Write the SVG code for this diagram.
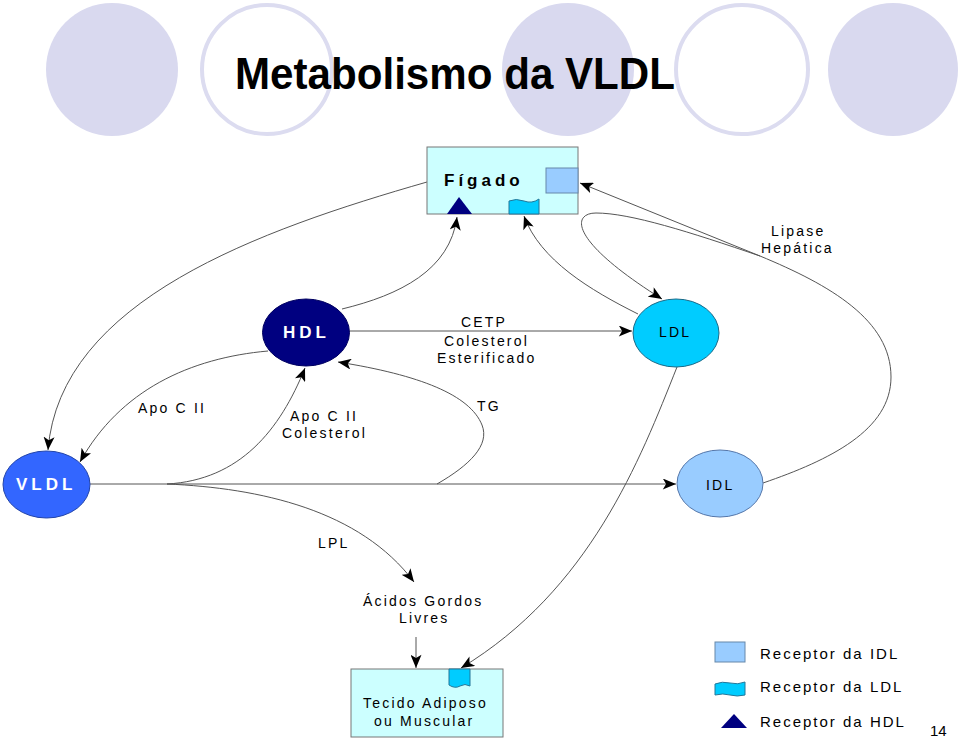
<svg xmlns="http://www.w3.org/2000/svg" width="960" height="738" viewBox="0 0 960 738">
<defs>
<style>
.bgf{fill:#d9d9ef}
.bgo{fill:#ffffff;stroke:#dcdcf0;stroke-width:4}
.t{font-family:"Liberation Sans",Arial,sans-serif;font-size:14px;letter-spacing:2.2px;fill:#000}
.lg{font-family:"Liberation Sans",Arial,sans-serif;font-size:15px;letter-spacing:2px;fill:#000}
.nb{font-family:"Liberation Sans",Arial,sans-serif;font-size:17px;font-weight:bold;letter-spacing:4px;fill:#fff}
.c{fill:none;stroke:#555;stroke-width:1}
.box{fill:#ccffff;stroke:#777;stroke-width:1}
.ri{fill:#99ccff;stroke:#6688aa;stroke-width:1}
.rl{fill:#00ccff;stroke:#227799;stroke-width:1}
.rh{fill:#000080}
</style>
<marker id="arr" viewBox="0 0 12 10" refX="12" refY="5" markerWidth="14" markerHeight="11" markerUnits="userSpaceOnUse" orient="auto">
<path d="M0,0 L12,5 L0,10 L3,5 Z" fill="#000"/>
</marker>
</defs>
<rect width="960" height="738" fill="#fff"/>
<g id="background">
<ellipse class="bgf" cx="112" cy="69.5" rx="66" ry="66.5"/>
<ellipse class="bgo" cx="267" cy="69.5" rx="65" ry="64.5"/>
<ellipse class="bgf" cx="568" cy="69.5" rx="66" ry="66.5"/>
<ellipse class="bgo" cx="742" cy="69.5" rx="66" ry="64.5"/>
<ellipse class="bgf" cx="893" cy="69.5" rx="65" ry="66.5"/>
</g>
<text x="235" y="89" font-family="Liberation Sans,Arial,sans-serif" font-size="44" font-weight="bold" textLength="440" lengthAdjust="spacingAndGlyphs">Metabolismo da VLDL</text>

<g id="connectors">
<path class="c" d="M427,182 C260,230 60,300 48,450" marker-end="url(#arr)"/>
<path class="c" d="M268,351 C190,358 120,390 80,462" marker-end="url(#arr)"/>
<path class="c" d="M167,484 C240,480 280,430 305,368" marker-end="url(#arr)"/>
<path class="c" d="M437,484 C470,465 490,445 482,425 C470,395 420,375 338,362" marker-end="url(#arr)"/>
<path class="c" d="M167,484 C260,488 360,510 414,582" marker-end="url(#arr)"/>
<path class="c" d="M342,309 C400,295 450,270 457,217" marker-end="url(#arr)"/>
<path class="c" d="M638,314 C590,290 540,260 524,216" marker-end="url(#arr)"/>
<path class="c" d="M763,483 C830,460 891,430 891,377 C891,320 830,285 760,256 L580,183" marker-end="url(#arr)"/>
<path class="c" d="M760,256 C690,232 630,213 596,213 C572,213 568,240 662,299" marker-end="url(#arr)"/>
<path class="c" d="M677,367 C640,460 590,590 461,668" marker-end="url(#arr)"/>
<path class="c" d="M350,331 L632,331" marker-end="url(#arr)"/>
<path class="c" d="M90,484 L676,484" marker-end="url(#arr)"/>
<path class="c" d="M416,637 L416,668" marker-end="url(#arr)"/>
</g>

<g id="figado">
<rect class="box" x="427" y="147" width="151" height="67"/>
<text x="444" y="186" font-family="Liberation Sans,Arial,sans-serif" font-size="17" font-weight="bold" letter-spacing="4">Fígado</text>
<rect class="ri" x="546" y="168" width="32" height="25"/>
<path class="rh" d="M459,197 L472,214 L447,214 Z"/>
<path class="rl" d="M509,201 Q516,198 524,201 T539,199 L539,214 L509,214 Z"/>
</g>

<g id="hdl">
<ellipse cx="306" cy="332.5" rx="43.5" ry="33.5" fill="#000080" stroke="#000060"/>
<text class="nb" x="283" y="338">HDL</text>
</g>

<g id="ldl">
<ellipse cx="676" cy="333" rx="43" ry="34" fill="#00ccff" stroke="#1a6a88"/>
<text class="t" x="659" y="337" letter-spacing="3">LDL</text>
</g>

<g id="vldl">
<ellipse cx="46.5" cy="484.5" rx="43.5" ry="33.5" fill="#3366ff" stroke="#2244aa"/>
<text class="nb" x="16" y="490">VLDL</text>
</g>

<g id="idl">
<ellipse cx="720" cy="483.5" rx="43" ry="33.5" fill="#99ccff" stroke="#5577aa"/>
<text class="t" x="706" y="490" letter-spacing="3">IDL</text>
</g>

<g id="tecido">
<rect class="box" x="351" y="669" width="152" height="68"/>
<path class="rl" d="M449,669 L470,669 L470,686 Q465,683 460,686 T449,685 Z"/>
<text class="t" x="363" y="708">Tecido Adiposo</text>
<text class="t" x="374" y="726">ou Muscular</text>
</g>

<g id="labels">
<text class="t" x="461" y="327">CETP</text>
<text class="t" x="444" y="346">Colesterol</text>
<text class="t" x="437" y="363">Esterificado</text>
<text class="t" x="771" y="236">Lipase</text>
<text class="t" x="761" y="253">Hepática</text>
<text class="t" x="138" y="413">Apo C II</text>
<text class="t" x="290" y="421">Apo C II</text>
<text class="t" x="282" y="438">Colesterol</text>
<text class="t" x="477" y="411">TG</text>
<text class="t" x="318" y="548">LPL</text>
<text class="t" x="363" y="606">Ácidos Gordos</text>
<text class="t" x="399" y="623">Livres</text>
</g>

<g id="legend">
<rect class="ri" x="715" y="642" width="30" height="20"/>
<text class="lg" x="760" y="659">Receptor da IDL</text>
<path class="rl" d="M715,684 Q722,681 730,683 T745,682 L745,695 Q737,697 730,695 T715,695 Z"/>
<text class="lg" x="760" y="692">Receptor da LDL</text>
<path class="rh" d="M734,714 L747,728 L721,728 Z"/>
<text class="lg" x="760" y="727">Receptor da HDL</text>
</g>
<text x="930" y="736" font-family="Liberation Sans,Arial,sans-serif" font-size="15">14</text>
</svg>
